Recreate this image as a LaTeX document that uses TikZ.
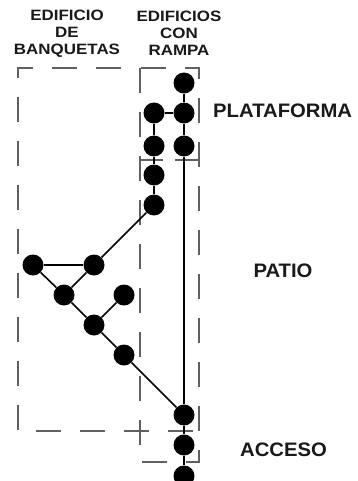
\documentclass[tikz,border=0pt]{standalone}
\usepackage{fontspec}
\newfontfamily\headfont[FakeStretch=1.13]{Liberation Sans Bold}
\newfontfamily\labfont[FakeStretch=1.04]{Liberation Sans Bold}
\begin{document}
\begin{tikzpicture}[x=1pt,y=-1pt,
  dot/.style={circle,fill=black,inner sep=0pt,minimum size=21pt},
  conn/.style={line width=1.6pt,black},
  zone/.style={line width=1.3pt,gray!75!black,dash pattern=on 25pt off 19pt},
  head/.style={font=\headfont\fontsize{15}{15.5}\selectfont,align=center,inner sep=0pt,text=black!90},
  lab/.style={font=\labfont\fontsize{19.5}{20}\selectfont,inner sep=0pt,text=black!90}]
\useasboundingbox (0,0) rectangle (358,481);
% zones
\draw[zone,dash phase=25pt] (140,68) -- (18,68) -- (18,431) -- (199,431);
\draw[zone] (140,68) -- (140,462) -- (199,462) -- (199,68) -- cycle;
\draw[line width=1.3pt,gray!75!black] (140,160) -- (163,160) (175,160) -- (199,160);
% headings
\node[head] (hb) at (67,33.5) {EDIFICIO\\[1.5pt]DE\\[1.5pt]BANQUETAS};
\node[head] (hr) at (179,33.5) {EDIFICIOS\\[1.5pt]CON\\[1.5pt]RAMPA};
\node[lab,anchor=west] (pl) at (213,111) {PLATAFORMA};
\node[lab] (pa) at (283,271) {PATIO};
\node[lab,anchor=west] (ac) at (240,450) {ACCESO};
% nodes
\node[dot] (r1) at (184,83) {};
\node[dot] (r2) at (184,113) {};
\node[dot] (r3) at (184,146) {};
\node[dot] (l1) at (154,113) {};
\node[dot] (l2) at (154,146) {};
\node[dot] (l3) at (154,175) {};
\node[dot] (l4) at (154,205) {};
\node[dot] (t1) at (33,265) {};
\node[dot] (t2) at (94,265) {};
\node[dot] (t3) at (64,295) {};
\node[dot] (t4) at (124,295) {};
\node[dot] (t5) at (94,325) {};
\node[dot] (t6) at (124,355) {};
\node[dot] (a1) at (184,415) {};
\node[dot] (a2) at (184,445) {};
\node[dot] (a3) at (184,476) {};
% connectors
\draw[conn] (r1) -- (r2);
\draw[conn] (r2) -- (r3);
\draw[conn] (r3) -- (a1);
\draw[conn] (a1) -- (a2);
\draw[conn] (a2) -- (a3);
\draw[conn] (l1) -- (r2);
\draw[conn] (l1) -- (l2);
\draw[conn] (l2) -- (l3);
\draw[conn] (l3) -- (l4);
\draw[conn] (l4) -- (t2);
\draw[conn] (t1) -- (t2);
\draw[conn] (t1) -- (t3);
\draw[conn] (t2) -- (t3);
\draw[conn] (t3) -- (t5);
\draw[conn] (t4) -- (t5);
\draw[conn] (t5) -- (t6);
\draw[conn] (t6) -- (a1);
\end{tikzpicture}
\end{document}
